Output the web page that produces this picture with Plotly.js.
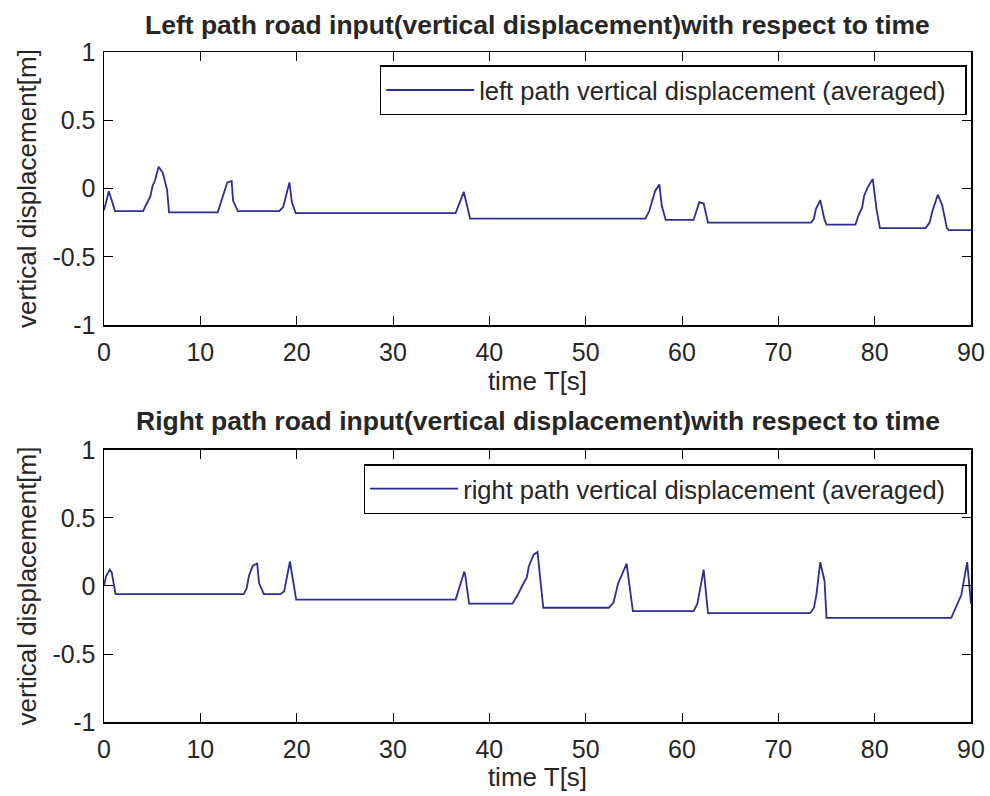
<!DOCTYPE html>
<html>
<head>
<meta charset="utf-8">
<script src="https://cdn.plot.ly/plotly-3.0.1.min.js"></script>
<style>body{margin:0;background:#fff}#chart{width:990px;height:796px}</style>
</head>
<body>
<div id="chart"></div>
<script>
// Left path (top panel)
const leftTime = [0, 0.5, 1.15, 4.06, 4.3, 4.8, 5.05, 5.3, 5.67, 6.1, 6.55, 6.75,
  11.8, 12.5, 12.8, 13.25, 13.4, 13.9, 18.2, 18.6, 19.25, 19.5, 19.9,
  36.5, 37.35, 38.0, 56.2, 56.6, 56.95, 57.2, 57.65, 57.9, 58.3,
  61.2, 61.8, 62.25, 62.7, 73.4, 73.7, 73.9, 74.35, 74.8, 75.0,
  78.0, 78.3, 78.7, 78.9, 79.25, 79.8, 80.2, 80.55, 85.3, 85.7, 86.0, 86.55, 87.0, 87.5, 87.7, 90];
const leftDisp = [-0.16, -0.02, -0.165, -0.165, -0.13, -0.06, 0.02, 0.06, 0.16, 0.115, -0.01, -0.175,
  -0.175, -0.03, 0.045, 0.055, -0.09, -0.165, -0.165, -0.135, 0.045, -0.1, -0.18,
  -0.18, -0.025, -0.22, -0.22, -0.165, -0.075, -0.02, 0.03, -0.125, -0.23,
  -0.23, -0.1, -0.11, -0.25, -0.25, -0.22, -0.15, -0.085, -0.23, -0.265,
  -0.265, -0.2, -0.14, -0.055, 0.005, 0.07, -0.155, -0.29, -0.29, -0.25, -0.165, -0.045, -0.12, -0.29, -0.305, -0.305];

// Right path (bottom panel)
const rightTime = [0, 0.2, 0.6, 0.8, 1.2, 14.5, 14.8, 15.05, 15.45, 15.9, 16.1, 16.6,
  18.3, 18.7, 19.3, 19.95, 36.5, 37.4, 37.5, 37.9, 42.4, 42.95, 43.4, 43.9, 44.1, 44.6, 45.0, 45.6,
  52.4, 52.9, 53.35, 54.25, 54.9, 61.2, 61.6, 62.25, 62.7,
  73.3, 73.7, 73.95, 74.35, 74.8, 75.0, 87.95, 89.0, 89.6, 90];
const rightDisp = [0, 0.07, 0.12, 0.1, -0.06, -0.06, -0.02, 0.075, 0.15, 0.165, 0.02, -0.06,
  -0.06, -0.04, 0.18, -0.1, -0.1, 0.105, 0.08, -0.13, -0.13, -0.065, 0.0, 0.065, 0.145, 0.23, 0.25, -0.16,
  -0.16, -0.12, 0.015, 0.165, -0.185, -0.185, -0.13, 0.12, -0.2,
  -0.2, -0.16, -0.065, 0.175, 0.035, -0.235, -0.235, -0.065, 0.175, -0.13];

const xTicks = [0, 10, 20, 30, 40, 50, 60, 70, 80, 90];
const yTicks = [-1, -0.5, 0, 0.5, 1];
const yTickText = ['-1', '-0.5', '0', '0.5', '1'];
const leftName = 'left path vertical displacement (averaged)';
const rightName = 'right path vertical displacement (averaged)';
const topTitle = 'Left path road input(vertical displacement)with respect to time';
const bottomTitle = 'Right path road input(vertical displacement)with respect to time';

const lineColor = '#2f2c92';
const fam = 'Liberation Sans, Arial, sans-serif';
const tickFont = {family: fam, size: 25, color: '#262626'};
const titleFont = {family: fam, size: 26, color: '#262626'};
const legFont = {family: fam, size: 25.5, color: '#262626'};
const pad = '\u00A0\u00A0';

const traces = [
  {x: leftTime, y: leftDisp, type: 'scatter', mode: 'lines', name: leftName + pad,
   line: {color: lineColor, width: 1.8}, xaxis: 'x', yaxis: 'y', legend: 'legend'},
  {x: rightTime, y: rightDisp, type: 'scatter', mode: 'lines', name: rightName + pad,
   line: {color: lineColor, width: 1.8}, xaxis: 'x2', yaxis: 'y2', legend: 'legend2'}
];

function xax(anchor) {
  return {range: [0, 90], tickvals: xTicks, ticks: 'inside', ticklen: 9, tickcolor: '#000',
    showline: true, linecolor: '#000', linewidth: 1.5, mirror: 'allticks', showgrid: false, zeroline: false,
    anchor: anchor, tickfont: tickFont, ticklabelstandoff: 4, title: {text: 'time T[s]', font: titleFont, standoff: 0}};
}
function yax(anchor, dom) {
  return {range: [-1, 1], tickvals: yTicks, ticktext: yTickText, ticks: 'inside', ticklen: 9, tickcolor: '#000',
    showline: true, linecolor: '#000', linewidth: 1.5, mirror: 'allticks', showgrid: false, zeroline: false,
    anchor: anchor, domain: dom, tickfont: tickFont, ticklabelstandoff: 2,
    title: {text: 'vertical displacement[m]', font: titleFont, standoff: 8}};
}

const legendStyle = {font: legFont, bordercolor: '#000', borderwidth: 1.5, bgcolor: '#fff',
  xanchor: 'right', yanchor: 'top', x: 0.995, itemwidth: 88};

const layout = {
  width: 990, height: 796,
  margin: {l: 104, r: 19, t: 52, b: 74},
  paper_bgcolor: '#fff', plot_bgcolor: '#fff',
  showlegend: true,
  xaxis: xax('y'),
  yaxis: yax('x', [0.5925, 1]),
  xaxis2: xax('y2'),
  yaxis2: yax('x2', [0, 0.406]),
  legend: Object.assign({}, legendStyle, {y: 0.98}),
  legend2: Object.assign({}, legendStyle, {y: 0.385}),
  annotations: [
    {text: '<b>' + topTitle + '</b>', xref: 'paper', yref: 'paper',
     x: 0.5, y: 1.0403, yanchor: 'middle', showarrow: false, font: {family: fam, size: 26.5, color: '#262626'}},
    {text: '<b>' + bottomTitle + '</b>', xref: 'paper', yref: 'paper',
     x: 0.5, y: 0.449, yanchor: 'middle', showarrow: false, font: {family: fam, size: 26.5, color: '#262626'}}
  ]
};

Plotly.newPlot('chart', traces, layout, {displayModeBar: false, staticPlot: true});
</script>
</body>
</html>
